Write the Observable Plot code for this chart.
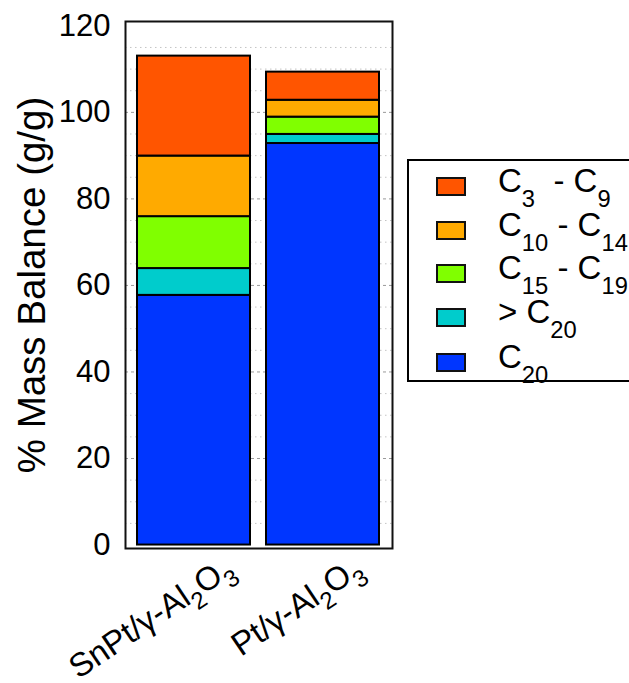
<!DOCTYPE html>
<html><head><meta charset="utf-8">
<script src="https://cdn.jsdelivr.net/npm/d3@7"></script>
<script src="https://cdn.jsdelivr.net/npm/@observablehq/plot@0.6"></script>
<style>
body{margin:0;background:#fff;}
#wrap{position:relative;width:629px;height:683px;overflow:hidden;font-family:"Liberation Sans",Arial,sans-serif;color:#000;}
#legbox{position:absolute;left:407px;top:159px;width:260px;height:223px;border:2px solid #000;box-sizing:border-box;}
.sw{position:absolute;left:436px;width:30px;height:19px;border:2px solid #111;box-sizing:border-box;}
.lt{position:absolute;left:498px;font-size:33px;line-height:33px;white-space:pre;}
.lt .s{position:relative;top:15px;font-size:0.72em;}
</style></head>
<body><div id="wrap"></div>
<script>
// Data
const catalysts = ["SnPt/γ-Al2O3", "Pt/γ-Al2O3"];
const fractions = ["C20", ">C20", "C15-C19", "C10-C14", "C3-C9"]; // bottom to top
const colors = ["#0036ff", "#00cccc", "#80ff00", "#ffaa00", "#ff5500"];
const c20 = [57.7, 92.8];
const gtC20 = [6.2, 2.1];
const c15_19 = [12.0, 4.0];
const c10_14 = [14.0, 3.9];
const c3_9 = [23.1, 6.5];
const yTicks = [0, 20, 40, 60, 80, 100, 120];
const majorGrid = [20, 40, 60, 80, 100];
const minorGrid = [5, 10, 15, 25, 30, 35, 45, 50, 55, 65, 70, 75, 85, 90, 95, 105, 110, 115];
const legendOrder = ["C3-C9", "C10-C14", "C15-C19", ">C20", "C20"];
const legendParts = [["C", "3", "  - C", "9"], ["C", "10", " - C", "14"], ["C", "15", " - C", "19"], ["> C", "20"], ["C", "20"]];
const yTitle = "% Mass Balance (g/g)";

const series = [c20, gtC20, c15_19, c10_14, c3_9];
const rows = [];
catalysts.forEach((c, i) => fractions.forEach((f, j) => rows.push({catalyst: c, fraction: f, value: series[j][i]})));

const chart = Plot.plot({
  width: 629, height: 683,
  marginLeft: 125, marginRight: 237, marginTop: 21, marginBottom: 135,
  style: {fontFamily: "'Liberation Sans', Arial, sans-serif", fontSize: "31px", color: "#000", background: "#fff"},
  x: {domain: catalysts, paddingInner: 0.123, paddingOuter: 0.092, axis: null},
  y: {domain: [-0.8, 121], axis: null},
  color: {domain: fractions, range: colors},
  marks: [
    Plot.ruleY(minorGrid, {stroke: "#c4c4c4", strokeDasharray: "1.5,3.5", strokeWidth: 1}),
    Plot.ruleY(majorGrid, {stroke: "#9a9a9a", strokeDasharray: "3,3", strokeWidth: 1}),
    Plot.barY(rows, {x: "catalyst", y: "value", fill: "fraction", order: fractions, stroke: "#000", strokeWidth: 2}),
    Plot.frame({stroke: "#111", strokeWidth: 2}),
    Plot.axisY({ticks: yTicks, tickSize: 0, tickPadding: 15, fontSize: 31, label: null}),
    Plot.axisX({tickSize: 0, tickPadding: 16, tickRotate: -34, fontSize: 33, label: null, dx: 36}),
    Plot.text([yTitle], {text: d => d, frameAnchor: "left", rotate: -90, dx: -93, fontSize: 38.5, textAnchor: "middle"})
  ]
});
document.getElementById("wrap").appendChild(chart);

// subscripts in x tick labels
chart.querySelectorAll('g[aria-label="x-axis tick label"] text').forEach(t => {
  const s = t.textContent;
  t.innerHTML = s.replace(/(\d)/g, '<tspan dy="10" font-size="24">$1</tspan><tspan dy="-10">\u200b</tspan>');
});

// legend
const wrap = document.getElementById("wrap");
const box = document.createElement("div"); box.id = "legbox"; wrap.appendChild(box);
const centers = [186, 230, 273, 317, 362];
const baselines = [192, 236, 279, 323, 368];
legendOrder.forEach((f, i) => {
  const sw = document.createElement("div");
  sw.className = "sw";
  sw.style.top = (centers[i] - 9.5) + "px";
  sw.style.background = colors[fractions.indexOf(f)];
  wrap.appendChild(sw);
  const lt = document.createElement("div");
  lt.className = "lt";
  lt.style.top = (baselines[i] - 0.8465 * 33) + "px";
  legendParts[i].forEach((p, k) => {
    const sp = document.createElement("span");
    if (k % 2 === 1) sp.className = "s";
    sp.textContent = p;
    lt.appendChild(sp);
  });
  wrap.appendChild(lt);
});
</script></body></html>
